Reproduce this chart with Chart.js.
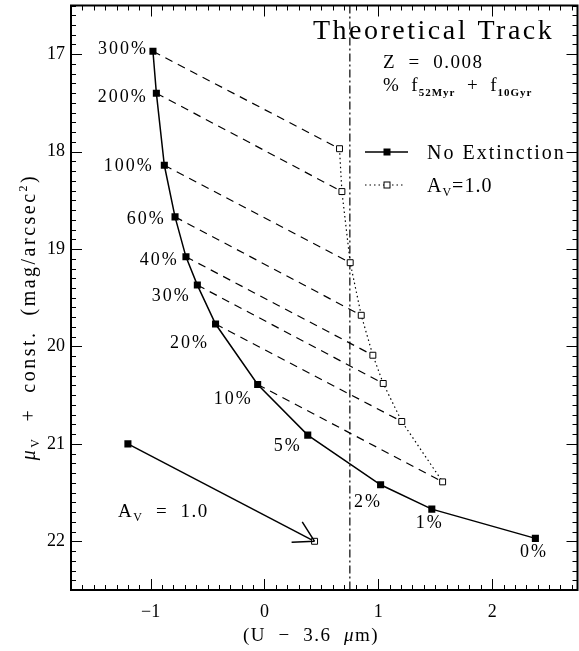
<!DOCTYPE html>
<html><head><meta charset="utf-8">
<script src="https://cdn.jsdelivr.net/npm/chart.js@4/dist/chart.umd.min.js"></script>
<style>html,body{margin:0;padding:0;background:#fff}canvas{display:block}</style>
</head><body>
<canvas id="c" width="579" height="651"></canvas>
<script>
// ---- data ----
const pctLabels = ['300%','200%','100%','60%','40%','30%','20%','10%','5%','2%','1%','0%'];
const noExtX = [-0.98,-0.95,-0.88,-0.786,-0.69,-0.59,-0.43,-0.06,0.38,1.02,1.47,2.38];
const noExtY = [16.97,17.40,18.14,18.67,19.08,19.37,19.77,20.39,20.91,21.42,21.67,21.97];
const av1X = [0.659,0.680,0.753,0.85,0.952,1.043,1.206,1.565];
const av1Y = [17.97,18.41,19.14,19.68,20.09,20.38,20.77,21.39];
const arrowX = [-1.2, 0.44];
const arrowY = [21.0, 22.0];
const colorCut = [0.75];
const xTickValues = [-1,0,1,2];
const xTickLabels = ['\u22121','0','1','2'];
const yTickValues = [17,18,19,20,21,22];
const yTickLabels = ['17','18','19','20','21','22'];
const xRange = [-1.7, 2.75];
const yRange = [16.5, 22.5];

const SERIF = '"Liberation Serif", "Times New Roman", serif';
const pts = (xs, ys) => xs.map((v, i) => ({x: v, y: ys[i]}));

const datasets = [];
datasets.push({
  label: 'No Extinction', data: pts(noExtX, noExtY), showLine: true,
  borderColor: '#000', borderWidth: 1.5, pointStyle: 'rect', pointRadius: 5,
  pointBackgroundColor: '#000', pointBorderColor: '#000', pointBorderWidth: 0, order: 1
});
datasets.push({
  label: 'Av=1.0', data: pts(av1X, av1Y), showLine: true,
  borderColor: '#000', borderWidth: 1.2, borderDash: [1.5, 3], pointStyle: 'rect', pointRadius: 4.2,
  pointBackgroundColor: '#fff', pointBorderColor: '#000', pointBorderWidth: 1, order: 2
});
av1X.forEach((v, i) => {
  datasets.push({
    label: 'link' + i, data: [{x: noExtX[i], y: noExtY[i]}, {x: av1X[i], y: av1Y[i]}], showLine: true,
    borderColor: '#000', borderWidth: 1.2, borderDash: [8, 6], pointRadius: 0, order: 5
  });
});
datasets.push({
  label: 'cut', data: [{x: colorCut[0], y: yRange[0]}, {x: colorCut[0], y: yRange[1]}], showLine: true,
  borderColor: '#000', borderWidth: 1.2, borderDash: [8, 3, 2, 3], pointRadius: 0, order: 6
});
datasets.push({
  label: 'arrow', data: pts(arrowX, arrowY), showLine: true,
  borderColor: '#000', borderWidth: 1.5, pointStyle: 'rect', pointRadius: [5, 4.2],
  pointBackgroundColor: ['#000', '#fff'], pointBorderColor: '#000', pointBorderWidth: [0, 1], order: 3
});

function rich(ctx, parts, x, y, align) {
  let w = 0;
  parts.forEach(p => { ctx.font = p[1]; w += ctx.measureText(p[0]).width; });
  let cx = align === 'center' ? x - w / 2 : x;
  parts.forEach(p => { ctx.font = p[1]; ctx.fillText(p[0], cx, y + (p[2] || 0)); cx += ctx.measureText(p[0]).width; });
}

const labelOffsets = [[-5,-2],[-8.7,3.7],[-10.7,0.7],[-9.3,2.7],[-7.3,3.7],[-6.7,10.7],[-6.6,19.3],[-5,14.5],[-6,11.4],[1.4,17.3],[11.9,14.3],[12.7,13.5]];

const ink = {
  id: 'ink',
  afterDraw(chart) {
    const {ctx, chartArea: a, scales: {x, y}} = chart;
    ctx.save();
    ctx.fillStyle = '#000'; ctx.strokeStyle = '#000';
    ctx.lineWidth = 1;
    ctx.beginPath();
    for (let k = Math.round(xRange[0] * 10); k <= Math.round(xRange[1] * 10); k++) {
      const px = Math.round(x.getPixelForValue(k / 10)) + 0.5;
      const len = (k % 10 === 0) ? 11 : 5;
      ctx.moveTo(px, a.bottom); ctx.lineTo(px, a.bottom - len);
      ctx.moveTo(px, a.top); ctx.lineTo(px, a.top + len);
    }
    for (let k = Math.round(yRange[0] * 10); k <= Math.round(yRange[1] * 10); k++) {
      const py = Math.round(y.getPixelForValue(k / 10)) + 0.5;
      const len = (k % 10 === 0) ? 11 : 5;
      ctx.moveTo(a.left, py); ctx.lineTo(a.left + len, py);
      ctx.moveTo(a.right, py); ctx.lineTo(a.right - len, py);
    }
    ctx.stroke();
    ctx.lineWidth = 2;
    ctx.strokeRect(a.left, a.top, a.right - a.left, a.bottom - a.top);

    // arrowhead
    const am = chart.getDatasetMeta(datasets.length - 1).data;
    const p0 = am[0], p1 = am[1];
    const ang = Math.atan2(p0.y - p1.y, p0.x - p1.x);
    ctx.lineWidth = 1.5;
    ctx.beginPath();
    [Math.PI / 6, -Math.PI / 6].forEach(d => {
      ctx.moveTo(p1.x, p1.y);
      ctx.lineTo(p1.x + 23 * Math.cos(ang + d), p1.y + 23 * Math.sin(ang + d));
    });
    ctx.stroke();

    // percentage labels
    const nm = chart.getDatasetMeta(0).data;
    ctx.font = '18px ' + SERIF;
    ctx.letterSpacing = '2px';
    ctx.textAlign = 'right'; ctx.textBaseline = 'middle';
    pctLabels.forEach((t, i) => {
      const p = nm[i];
      ctx.fillText(t, p.x + labelOffsets[i][0], p.y + labelOffsets[i][1]);
    });

    // annotations
    ctx.textAlign = 'left'; ctx.textBaseline = 'alphabetic';
    ctx.letterSpacing = '2.5px';
    ctx.font = '28px ' + SERIF;
    ctx.fillText('Theoretical Track', 313, 39);
    ctx.letterSpacing = '1.5px';
    rich(ctx, [['Z  =  0.008', '19px ' + SERIF, 0]], 383, 68, 'left');
    ctx.letterSpacing = '1px';
    rich(ctx, [['%  f', '19px ' + SERIF, 0], ['52Myr', 'bold 11px ' + SERIF, 5],
               ['  +  f', '19px ' + SERIF, 0], ['10Gyr', 'bold 11px ' + SERIF, 5]], 383, 91, 'left');
    ctx.letterSpacing = '1.5px';
    rich(ctx, [['A', '19px ' + SERIF, 0], ['V', '12px ' + SERIF, 4], ['  =  1.0', '19px ' + SERIF, 0]], 118, 517, 'left');

    // legend
    ctx.lineWidth = 1.5; ctx.setLineDash([]);
    ctx.beginPath(); ctx.moveTo(365, 152); ctx.lineTo(408, 152); ctx.stroke();
    ctx.fillRect(383.5, 148.5, 7, 7);
    ctx.lineWidth = 1.2; ctx.setLineDash([1.5, 3]);
    ctx.beginPath(); ctx.moveTo(365, 185); ctx.lineTo(405, 185); ctx.stroke();
    ctx.setLineDash([]); ctx.lineWidth = 1;
    ctx.fillStyle = '#fff'; ctx.fillRect(384, 182, 6, 6); ctx.fillStyle = '#000';
    ctx.strokeRect(384, 182, 6, 6);
    ctx.letterSpacing = '2px';
    rich(ctx, [['No Extinction', '20px ' + SERIF, 0]], 427, 159, 'left');
    ctx.letterSpacing = '1px';
    rich(ctx, [['A', '20px ' + SERIF, 0], ['V', '12px ' + SERIF, 4], ['=1.0', '20px ' + SERIF, 0]], 427, 192, 'left');

    // axis titles
    ctx.letterSpacing = '1.5px';
    rich(ctx, [['(U  \u2212  3.6  ', '19px ' + SERIF, 0], ['\u03bc', 'italic 19px ' + SERIF, 0], ['m)', '19px ' + SERIF, 0]], 311, 641, 'center');
    ctx.translate(28, 317);
    ctx.rotate(-Math.PI / 2);
    ctx.letterSpacing = '2.5px';
    rich(ctx, [['\u03bc', 'italic 20px ' + SERIF, 0], ['V', '12px ' + SERIF, 4],
               ['  +  const.  (mag/arcsec', '20px ' + SERIF, 0], ['2', '12px ' + SERIF, -8], [')', '20px ' + SERIF, 0]], 0, 6.5, 'center');
    ctx.restore();
  }
};

new Chart(document.getElementById('c'), {
  type: 'scatter',
  data: {datasets},
  options: {
    responsive: false, animation: false, devicePixelRatio: 1,
    layout: {autoPadding: false, padding: {top: 5.5, right: 1.5, left: 0, bottom: 0}},
    plugins: {legend: {display: false}, tooltip: {enabled: false}},
    scales: {
      x: {
        type: 'linear', min: xRange[0], max: xRange[1],
        grid: {display: false, drawTicks: false}, border: {display: false},
        afterBuildTicks: s => { s.ticks = xTickValues.map(v => ({value: v})); },
        afterFit: s => { s.height = 61; s.paddingLeft = 0; s.paddingRight = 0; },
        ticks: {color: '#000', padding: 11, maxRotation: 0, font: {family: SERIF, size: 18},
          callback: v => xTickLabels[xTickValues.indexOf(v)]}
      },
      y: {
        type: 'linear', reverse: true, min: yRange[0], max: yRange[1],
        grid: {display: false, drawTicks: false}, border: {display: false},
        afterBuildTicks: s => { s.ticks = yTickValues.map(v => ({value: v})); },
        afterFit: s => { s.width = 71; s.paddingTop = 0; s.paddingBottom = 0; },
        ticks: {color: '#000', padding: 6, font: {family: SERIF, size: 18},
          callback: v => yTickLabels[yTickValues.indexOf(v)]}
      }
    }
  },
  plugins: [ink]
});
</script>
</body></html>
